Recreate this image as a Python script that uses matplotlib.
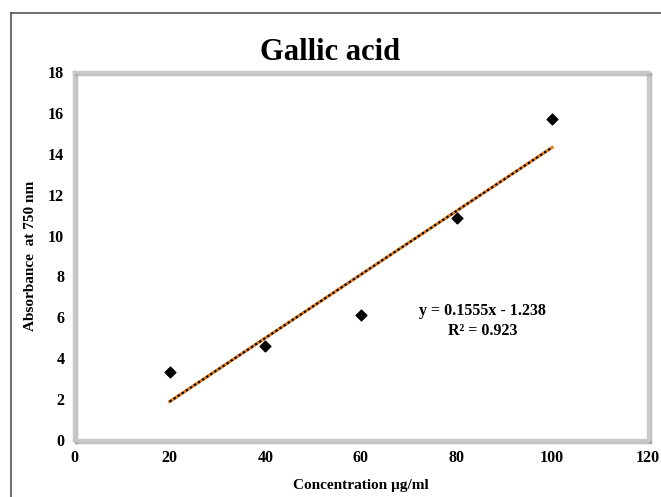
import matplotlib.pyplot as plt
import matplotlib.patheffects as pe
import numpy as np
from matplotlib.lines import Line2D

# --- Data ---
conc = [20, 40, 60, 80, 100]
absorb = [3.3, 4.6, 6.1, 10.85, 15.7]
slope = 0.1555
intercept = -1.238
r2 = 0.923

plt.rcParams['font.family'] = ['Liberation Serif', 'DejaVu Serif']
plt.rcParams['font.weight'] = 'bold'

fig = plt.figure(figsize=(6.61, 4.97), dpi=100)
ax = fig.add_axes([0.112, 0.115, 0.868, 0.74])

# outer chart border (left + top)
fig.add_artist(Line2D([11/661, 11/661], [0, 1 - 13/497], color='#555555', lw=1.2))
fig.add_artist(Line2D([11/661, 1], [1 - 13/497, 1 - 13/497], color='#555555', lw=1.2))

ax.scatter(conc, absorb, marker='D', s=30, color='black', zorder=3)

xs = np.array([conc[0], conc[-1]])
ys = slope * xs + intercept
ax.plot(xs, ys, color='#e07b20', lw=2.2, zorder=2)
ax.plot(xs, ys, color='black', lw=1.6, ls=(0, (1, 1.2)), zorder=2)

ax.set_xlim(0, 120)
ax.set_ylim(0, 18)
ax.set_xticks(range(0, 121, 20))
ax.set_yticks(range(0, 19, 2))
ax.tick_params(length=0, labelsize=11.5, pad=7)
for lab in ax.get_xticklabels() + ax.get_yticklabels():
    lab.set_fontweight('bold')

for sp in ax.spines.values():
    sp.set_color('#c8c8c8')
    sp.set_linewidth(2.5)
    sp.set_path_effects([pe.SimpleLineShadow(offset=(1.5, -1.5), shadow_color='#999999', alpha=0.6), pe.Normal()])

ax.set_xlabel('Concentration µg/ml', fontsize=11, fontweight='bold', labelpad=10)
ax.set_ylabel('Absorbance  at 750 nm', fontsize=11, fontweight='bold', labelpad=8)
fig.text(0.5, 0.895, 'Gallic acid', ha='center', va='center', fontsize=22, fontweight='bold')

ax.text(85.4, 6.3, f'y = {slope}x - {abs(intercept)}', ha='center', va='center', fontsize=11.5, fontweight='bold')
ax.text(85.4, 5.35, f'R² = {r2}', ha='center', va='center', fontsize=11.5, fontweight='bold')

fig.savefig('out.png', dpi=100)
